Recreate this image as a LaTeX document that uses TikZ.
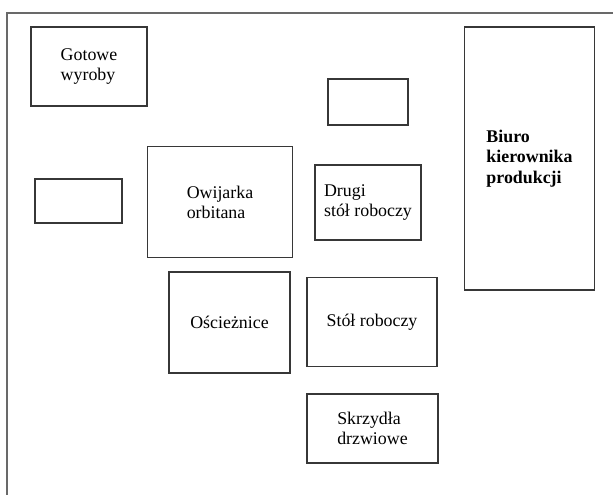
\documentclass[tikz,border=0pt]{standalone}
\usepackage{fontspec}
\setmainfont{Liberation Serif}
\usepackage{tikz}
\newcommand{\px}{0.75pt}
\definecolor{lineGrey}{RGB}{55,55,55}
\definecolor{frameGrey}{RGB}{105,105,105}
\usetikzlibrary{positioning}
\tikzset{
  font=\fontsize{13.4}{15}\selectfont,
  room/.style 2 args={draw=lineGrey,line width=0.8pt,shape=rectangle,inner sep=0,align=left,minimum width=#1*\px,minimum height=#2*\px},
  frame/.style={draw=frameGrey,line width=1pt},
}

\begin{document}
\begin{tikzpicture}[x=\px,y=-\px]
  \useasboundingbox (0,0) rectangle (613,495);
  % hala
  \coordinate (tr) at (613,13);
  \coordinate (tl) at (7,13);
  \coordinate (bl) at (7,495);
  \draw [frame] (tr) -- (tl) -- (bl);
  % stanowiska
  \node (gotowe) [room={116}{79}] at (89,66.5) {Gotowe\\wyroby};
  \node (pusty1) [room={80}{46}] at (368,102) {};
  \node (biuro) [room={130}{263},font=\fontsize{13.4}{15.4}\selectfont\bfseries] at (529.5,158.5) {Biuro\\kierownika\\produkcji};
  \node (pusty2) [room={87}{44}] at (78.5,201) {};
  \node (owijarka) [room={145}{111}] at (220,202) {Owijarka\\orbitana};
  \node (drugi) [room={106}{75}] at (368,202.5) {Drugi\\stół roboczy};
  \node (oscieznice) [room={121}{101}] at (229.5,322.5) {Ościeżnice};
  \node (stol) [room={130}{89}] at (372,322) {Stół roboczy};
  \node (skrzydla) [room={131}{69}] at (372.5,428.5) {Skrzydła\\drzwiowe};
\end{tikzpicture}
\end{document}
